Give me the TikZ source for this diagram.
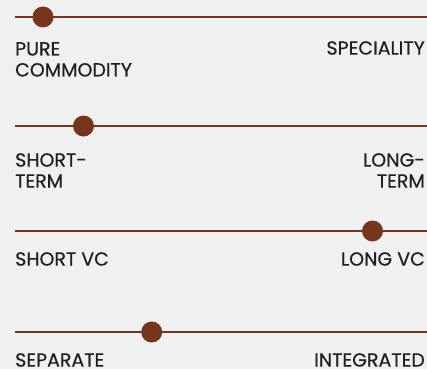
\documentclass[tikz,border=0pt]{standalone}
\usepackage{fontspec}
\setmainfont{Poppins}[BoldFont=Poppins,BoldFeatures={FakeBold=0.5}]
\definecolor{bg}{HTML}{EFF0F2}
\definecolor{brown}{HTML}{76361B}
\definecolor{ink}{HTML}{231F20}
\begin{document}
\begin{tikzpicture}[x=1pt,y=-1pt,
  track/.style={draw=brown,line width=2.8pt},
  knob/.style={circle,fill=brown,minimum size=21pt,inner sep=0pt},
  lbl/.style={inner sep=0pt,text=ink,font=\fontsize{19}{21}\selectfont\bfseries},
  lleft/.style={lbl,anchor=north west,align=left},
  lright/.style={lbl,anchor=north east,align=right}]
\fill[bg] (0,0) rectangle (427,369);
\useasboundingbox (0,0) rectangle (427,369);
% row 1
\coordinate (s1) at (15,17);
\coordinate (e1) at (427,17);
\draw[track] (s1) -- (e1);
\node[knob] (k1) at (43,17) {};
\node[lleft] (a1) at (15,42) {PURE\\COMMODITY};
\node[lright] (b1) at (425,41) {SPECIALITY};
% row 2
\coordinate (s2) at (15,126);
\coordinate (e2) at (427,126);
\draw[track] (s2) -- (e2);
\node[knob] (k2) at (83.5,126) {};
\node[lleft] (a2) at (15,153) {SHORT-\\TERM};
\node[lright] (b2) at (425,153) {LONG-\\TERM};
% row 3
\coordinate (s3) at (15,231);
\coordinate (e3) at (427,231);
\draw[track] (s3) -- (e3);
\node[knob] (k3) at (372.5,231) {};
\node[lleft] (a3) at (15,252) {SHORT VC};
\node[lright] (b3) at (425,252) {LONG VC};
% row 4
\coordinate (s4) at (15,332);
\coordinate (e4) at (427,332);
\draw[track] (s4) -- (e4);
\node[knob] (k4) at (151.7,332) {};
\node[lleft] (a4) at (15,353) {SEPARATE};
\node[lright] (b4) at (425,353) {INTEGRATED};
\end{tikzpicture}
\end{document}
